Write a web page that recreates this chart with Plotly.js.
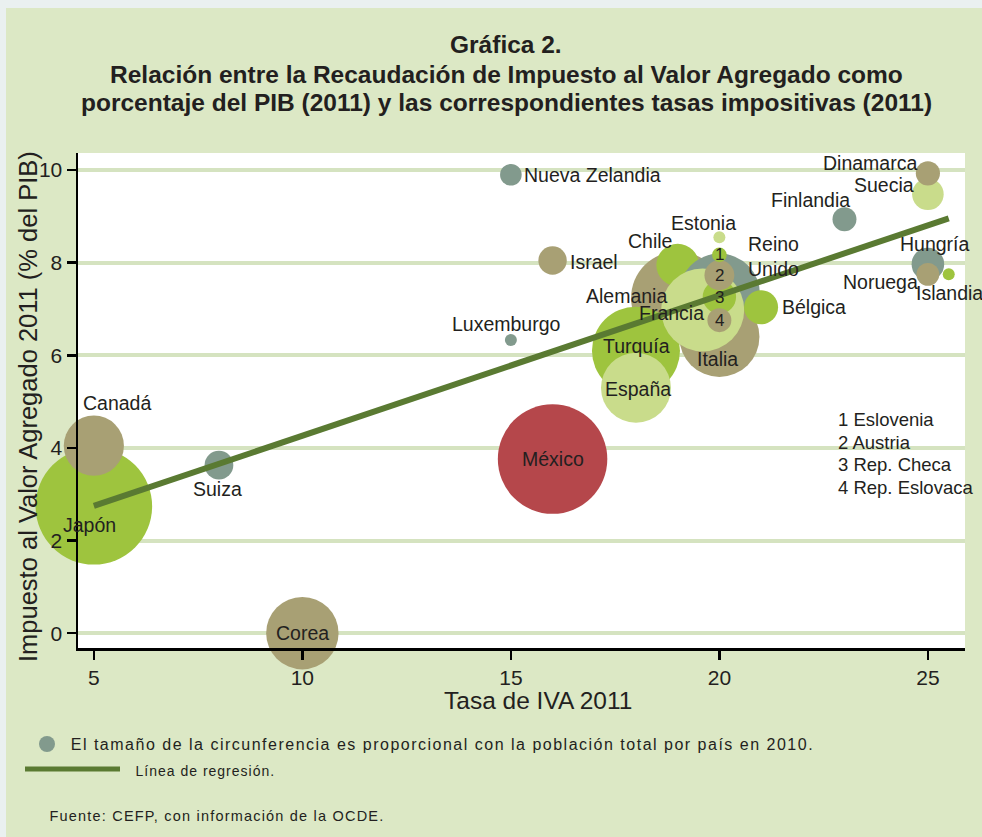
<!DOCTYPE html>
<html>
<head>
<meta charset="utf-8">
<script src="https://cdn.plot.ly/plotly-3.0.1.min.js"></script>
<style>
  html, body { margin: 0; padding: 0; background: #eaf0f0; }
  #chart { position: absolute; left: 6px; top: 8px; width: 976px; height: 829px; }
</style>
</head>
<body>
<div id="chart"></div>
<script>
// ---- Data ----
const paises = ["Japón","México","Alemania","Turquía","Chile","Reino Unido","Italia","Francia","Corea","España","Canadá","Bélgica","Suecia","Hungría","Rep. Checa","Suiza","Israel","Austria","Dinamarca","Finlandia","Rep. Eslovaca","Noruega","Nueva Zelandia","Eslovenia","Estonia","Luxemburgo","Islandia"];
const tasaIVA = [5, 16, 19, 18, 19, 20, 20, 19.6, 10, 18, 5, 21, 25, 25, 20, 8, 16, 20, 25, 23, 20, 25, 15, 20, 20, 15, 25.5];
const recaudacionPIB = [2.74, 3.76, 7.24, 6.1, 7.95, 7.32, 6.4, 6.98, 0, 5.3, 4.05, 7.04, 9.48, 7.97, 7.26, 3.63, 8.05, 7.73, 9.93, 8.94, 6.76, 7.75, 9.9, 8.17, 8.55, 6.33, 7.75];
const poblacion2010 = [128, 113, 81.8, 73, 17.1, 62.3, 60.5, 65, 49.4, 46.1, 34.1, 10.9, 9.4, 10.0, 10.5, 7.8, 7.6, 8.4, 5.5, 5.4, 5.4, 4.9, 4.4, 2.05, 1.34, 0.51, 0.32];
const grupo = ["verde","rojo","caqui","verde","verde","gris","caqui","claro","caqui","claro","caqui","verde","claro","gris","verde","gris","caqui","caqui","caqui","gris","caqui","caqui","gris","verde","claro","gris","verde"];
const etiquetas = ["Japón","México","Alemania","Turquía","Chile","Reino<br>Unido","Italia","Francia","Corea","España","Canadá","Bélgica","Suecia","Hungría","3","Suiza","Israel","2","Dinamarca","Finlandia","4","Noruega","Nueva Zelandia","1","Estonia","Luxemburgo","Islandia"];
const regresionX = [5, 25.5];
const regresionY = [2.75, 8.96];
const notaNumeros = ["1 Eslovenia","2 Austria","3 Rep. Checa","4 Rep. Eslovaca"];
const tituloLineas = ["Gráfica 2.", "Relación entre la Recaudación de Impuesto al Valor Agregado como", "porcentaje del PIB (2011) y las correspondientes tasas impositivas (2011)"];
const tituloEjeX = "Tasa de IVA 2011";
const tituloEjeY = "Impuesto al Valor Agregado 2011 (% del PIB)";
const ejeXTicks = [5, 10, 15, 20, 25];
const ejeYTicks = [0, 2, 4, 6, 8, 10];

// ---- Styles ----
const colores = { verde: "#9ec43e", rojo: "#b5474b", caqui: "#a8a074", claro: "#c9dc8b", gris: "#829a8d" };
// label placement: [xanchor, xshift, yshift]
const posEtiq = {
  "Japón": ["center", -4, -19], "México": ["center", 0, 0], "Alemania": ["right", -9, 2],
  "Turquía": ["center", 1, 5], "Chile": ["center", -28, 24], "Reino<br>Unido": ["left", 27, 38],
  "Italia": ["center", -2, -22], "Francia": ["center", -31, -3], "Corea": ["center", 0, 0],
  "España": ["center", 2, -1], "Canadá": ["center", 23, 43], "Bélgica": ["left", 19, 0],
  "Suecia": ["right", -12, 9], "Hungría": ["center", 7, 20], "3": ["center", 0, 0],
  "Suiza": ["center", -1, -24], "Israel": ["left", 15, -2], "2": ["center", 0, 0],
  "Dinamarca": ["right", -9, 10], "Finlandia": ["right", 8, 19], "4": ["center", 0, 0],
  "Noruega": ["right", -8, -8], "Nueva Zelandia": ["left", 11, 0], "1": ["center", 0, 0],
  "Estonia": ["center", -16, 14], "Luxemburgo": ["center", -4, 16], "Islandia": ["left", -35, -19]
};

const W = 887, H = 495, L = 78, T = 153;
const px = X => (X - L) / W;
const py = Y => (T + H - Y) / H;

const fontMain = "Arial, 'Liberation Sans', sans-serif";
const textColor = "#231f20";
const K = 5.15; // px radius per sqrt(million inhabitants)

const burbujas = {
  type: "scatter", mode: "markers",
  x: tasaIVA, y: recaudacionPIB,
  text: paises, hoverinfo: "text",
  marker: {
    size: poblacion2010, sizemode: "area", sizeref: 1 / (2 * K * K), sizemin: 6,
    color: grupo.map(g => colores[g]), opacity: 1, line: { width: 0 }
  },
  showlegend: false, cliponaxis: false
};

const linea = {
  type: "scatter", mode: "lines", x: regresionX, y: regresionY,
  line: { color: "#5a7a32", width: 6 }, hoverinfo: "skip", showlegend: false
};

const annotations = [];
etiquetas.forEach((t, i) => {
  const p = posEtiq[t];
  const isNum = /^[1-4]$/.test(t);
  annotations.push({
    x: tasaIVA[i], y: recaudacionPIB[i], xref: "x", yref: "y",
    text: t, showarrow: false, xanchor: p[0], yanchor: "middle",
    xshift: p[1], yshift: p[2],
    font: { family: fontMain, size: isNum ? 17 : 19.5, color: textColor },
    align: "left"
  });
});

// title (one annotation per line)
const tituloY = [45, 74, 102];
tituloLineas.forEach((t, i) => annotations.push({
  xref: "paper", yref: "paper", x: px(506), y: py(tituloY[i]), xanchor: "center", yanchor: "middle",
  text: "<b>" + t + "</b>", showarrow: false, font: { family: fontMain, size: 24.5, color: textColor }
}));
// axis titles
annotations.push({
  xref: "paper", yref: "paper", x: px(538), y: py(700), xanchor: "center", yanchor: "middle",
  text: tituloEjeX, showarrow: false, font: { family: fontMain, size: 24.5, color: textColor }
});
annotations.push({
  xref: "paper", yref: "paper", x: px(28), y: py(407), xanchor: "center", yanchor: "middle",
  text: tituloEjeY, textangle: -90, showarrow: false, font: { family: fontMain, size: 25.5, color: textColor }
});
// numbered note
const notaY = [420, 442, 464, 487];
notaNumeros.forEach((t, i) => annotations.push({
  xref: "paper", yref: "paper", x: px(836), y: py(notaY[i]), xanchor: "left", yanchor: "middle",
  text: t, showarrow: false, font: { family: fontMain, size: 18.5, color: textColor }
}));
// legend texts (centered, letter-spaced afterwards)
annotations.push({
  xref: "paper", yref: "paper", x: px(442), y: py(744), xanchor: "center", yanchor: "middle",
  text: "El tamaño de la circunferencia es proporcional con la población total por país en 2010.",
  showarrow: false, font: { family: fontMain, size: 16, color: textColor }
});
annotations.push({
  xref: "paper", yref: "paper", x: px(205), y: py(771), xanchor: "center", yanchor: "middle",
  text: "Línea de regresión.", showarrow: false, font: { family: fontMain, size: 14, color: textColor }
});
annotations.push({
  xref: "paper", yref: "paper", x: px(217), y: py(816), xanchor: "center", yanchor: "middle",
  text: "Fuente: CEFP, con información de la OCDE.", showarrow: false,
  font: { family: fontMain, size: 14.5, color: textColor }
});
const espaciado = {
  "El tamaño de la circunferencia es proporcional con la población total por país en 2010.": "1.5px",
  "Línea de regresión.": "1px",
  "Fuente: CEFP, con información de la OCDE.": "1.2px"
};

const shapes = [
  { type: "circle", xref: "paper", yref: "paper", x0: px(39), x1: px(55), y0: py(752), y1: py(736),
    fillcolor: colores.gris, line: { width: 0 } },
  { type: "line", xref: "paper", yref: "paper", x0: px(25), x1: px(120), y0: py(769), y1: py(769),
    line: { color: "#5a7a32", width: 5 } }
];

const layout = {
  width: 976, height: 829,
  margin: { l: 72, r: 17, t: 145, b: 189, pad: 0 },
  paper_bgcolor: "#dce8c5", plot_bgcolor: "#ffffff",
  font: { family: fontMain, color: textColor },
  xaxis: {
    range: [4.62, 25.89], tickvals: ejeXTicks, ticks: "outside", ticklen: 9, tickwidth: 2.5,
    tickcolor: "#000", showline: true, linecolor: "#000", linewidth: 2.5, showgrid: false, zeroline: false,
    tickfont: { size: 21, family: fontMain, color: textColor }
  },
  yaxis: {
    range: [-0.32, 10.37], tickvals: ejeYTicks, ticks: "outside", ticklen: 9, tickwidth: 2.5,
    tickcolor: "#000", showline: true, linecolor: "#000", linewidth: 2.5,
    showgrid: true, gridcolor: "#d5e3c0", gridwidth: 4, zeroline: false,
    tickfont: { size: 21, family: fontMain, color: textColor }
  },
  annotations: annotations,
  shapes: shapes,
  showlegend: false
};

Plotly.newPlot("chart", [burbujas, linea], layout, { displayModeBar: false, staticPlot: true }).then(() => {
  document.querySelectorAll("#chart .annotation-text").forEach(el => {
    const ls = espaciado[el.textContent];
    if (ls) el.style.letterSpacing = ls;
  });
});
</script>
</body>
</html>
